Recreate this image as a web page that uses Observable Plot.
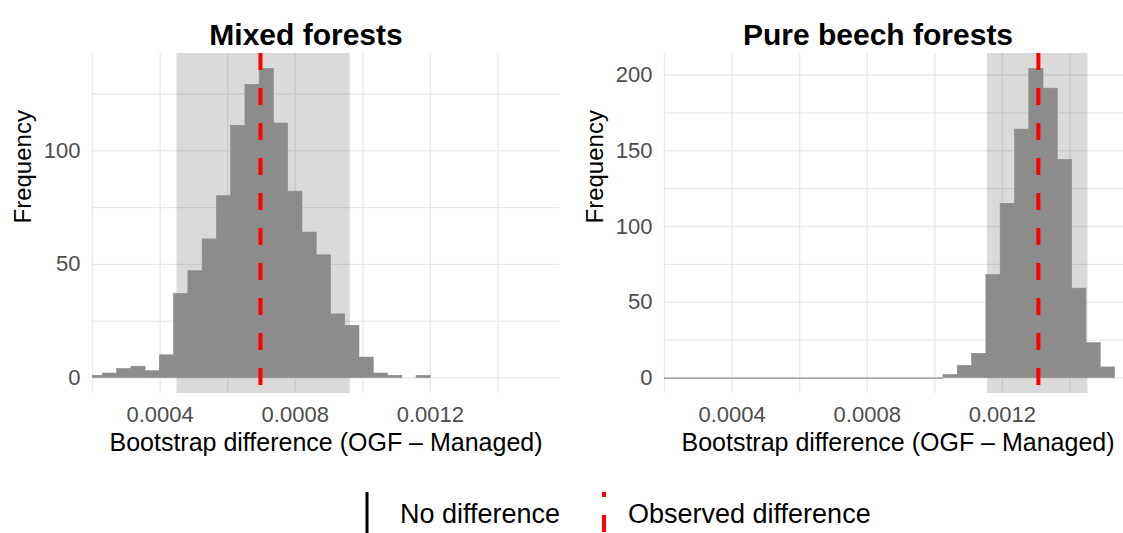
<!DOCTYPE html>
<html><head><meta charset="utf-8">
<script src="https://cdn.jsdelivr.net/npm/d3@7"></script>
<script src="https://cdn.jsdelivr.net/npm/@observablehq/plot@0.6"></script>
<style>
html,body{margin:0;padding:0;background:#fff;}
#wrap{position:relative;width:1123px;height:533px;overflow:hidden;font-family:"Liberation Sans",Arial,sans-serif;}
#left{position:absolute;left:0;top:0;width:572px;height:465px;}
#right{position:absolute;left:572px;top:0;width:572px;height:465px;}
#left svg,#right svg{max-width:none !important;width:572px;height:465px;}
#legend{position:absolute;left:0;top:465px;width:1123px;height:68px;}
</style></head><body>
<div id="wrap"><div id="left"></div><div id="right"></div><div id="legend"></div></div>
<script>
// ---- data ----
const mixedBinStart = [0.0001883,0.0002305,0.0002727,0.0003149,0.0003571,0.0003993,0.0004415,0.0004837,0.0005259,0.0005681,0.0006103,0.0006525,0.0006947,0.0007369,0.0007791,0.0008213,0.0008635,0.0009057,0.0009479,0.0009901,0.0010323,0.0010745,0.0011167,0.0011589];
const mixedBinEnd   = [0.0002305,0.0002727,0.0003149,0.0003571,0.0003993,0.0004415,0.0004837,0.0005259,0.0005681,0.0006103,0.0006525,0.0006947,0.0007369,0.0007791,0.0008213,0.0008635,0.0009057,0.0009479,0.0009901,0.0010323,0.0010745,0.0011167,0.0011589,0.0012011];
const mixedCounts   = [1,2,4,5,3,10,37,47,61,80,111,129,136,112,82,64,54,28,23,9,2,1,0,1];
const mixedCI = [0.00045, 0.000963];
const mixedObserved = 0.000697;

const beechBinStart = [0.0010256,0.0010679,0.0011102,0.0011525,0.0011948,0.0012371,0.0012794,0.0013217,0.0013640,0.0014063,0.0014486,0.0014909];
const beechBinEnd   = [0.0010679,0.0011102,0.0011525,0.0011948,0.0012371,0.0012794,0.0013217,0.0013640,0.0014063,0.0014486,0.0014909,0.0015332];
const beechCounts   = [2,8,16,68,115,164,204,191,144,59,23,7];
const beechEmptyBins = [0.00018, 0.0010256]; // zero-count bins before the first non-empty bin
const beechCI = [0.0011556, 0.0014532];
const beechObserved = 0.0013064;

const xDomain = [0.0002, 0.001582];
const xTicks = [0.0004, 0.0008, 0.0012];
const xGrid = [0.0002, 0.0004, 0.0006, 0.0008, 0.0010, 0.0012, 0.0014];
const mixedYDomain = [-6.8, 142.8];
const mixedYTicks = [0, 50, 100];
const mixedYGrid = [0, 25, 50, 75, 100, 125];
const beechYDomain = [-10.2, 214.2];
const beechYTicks = [0, 50, 100, 150, 200];
const beechYGrid = [0, 25, 50, 75, 100, 125, 150, 175, 200];

const titles = ["Mixed forests", "Pure beech forests"];
const xLabel = "Bootstrap difference (OGF \u2013 Managed)";
const yLabel = "Frequency";
const legendLabels = ["No difference", "Observed difference"];

const FONT = '"Liberation Sans", Arial, sans-serif';

function panel({starts, ends, counts, empty, ci, obs, yDomain, yTicks, yGrid, title}) {
  const bins = starts.map((s, i) => ({x1: s, x2: ends[i], count: counts[i]}));
  const marks = [
    Plot.ruleX(xGrid, {stroke: "#ebebeb", strokeWidth: 1.4}),
    Plot.ruleY(yGrid, {stroke: "#ebebeb", strokeWidth: 1.4}),
    Plot.rect([ci], {x1: d => d[0], x2: d => d[1], fill: "black", fillOpacity: 0.145}),
    Plot.rect(bins.filter(d => d.count > 0), {x1: "x1", x2: "x2", y1: 0, y2: "count", fill: "#8c8c8c", stroke: "#8c8c8c", strokeWidth: 0.6, clip: true}),
    Plot.ruleX([obs], {stroke: "#ff0000", strokeWidth: 4, strokeDasharray: "17,18"}),
    Plot.axisX({ticks: xTicks, tickSize: 0, tickPadding: 13, fontSize: 22, label: null, tickFormat: d => d.toFixed(4)}),
    Plot.axisY({ticks: yTicks, tickSize: 0, tickPadding: 12, fontSize: 22, label: null}),
    Plot.text([title], {frameAnchor: "top", dy: -29.6, dx: -20, fontSize: 30, fontWeight: "bold", fill: "black"}),
    Plot.text([xLabel], {frameAnchor: "bottom", lineAnchor: "top", dy: 40, fontSize: 25, fill: "black"}),
    Plot.text([yLabel], {frameAnchor: "left", rotate: -90, dx: -69, fontSize: 24, fill: "black"})
  ];
  if (empty) {
    marks.splice(4, 0, Plot.ruleY([0], {x1: empty[0], x2: empty[1], stroke: "#8c8c8c", strokeWidth: 1.3, clip: true}));
  }
  return Plot.plot({
    width: 572, height: 465,
    marginLeft: 92, marginRight: 13, marginTop: 53, marginBottom: 72,
    x: {domain: xDomain},
    y: {domain: yDomain},
    style: {fontFamily: FONT, color: "#4d4d4d", background: "white", overflow: "visible", maxWidth: "none"},
    marks
  });
}

document.getElementById("left").append(panel({
  starts: mixedBinStart, ends: mixedBinEnd, counts: mixedCounts, empty: null,
  ci: mixedCI, obs: mixedObserved, yDomain: mixedYDomain, yTicks: mixedYTicks, yGrid: mixedYGrid, title: titles[0]
}));
document.getElementById("right").append(panel({
  starts: beechBinStart, ends: beechBinEnd, counts: beechCounts, empty: beechEmptyBins,
  ci: beechCI, obs: beechObserved, yDomain: beechYDomain, yTicks: beechYTicks, yGrid: beechYGrid, title: titles[1]
}));

// ---- legend (below the plots) ----
const lg = d3.select("#legend").append("svg").attr("width", 1123).attr("height", 68)
  .style("font-family", FONT);
lg.append("line").attr("x1", 367).attr("x2", 367).attr("y1", 27).attr("y2", 70)
  .attr("stroke", "black").attr("stroke-width", 3);
lg.append("text").attr("x", 400).attr("y", 58).attr("font-size", 27).attr("fill", "black").text(legendLabels[0]);
lg.append("line").attr("x1", 604).attr("x2", 604).attr("y1", 27).attr("y2", 70)
  .attr("stroke", "#ff0000").attr("stroke-width", 4).attr("stroke-dasharray", "17,18").attr("stroke-dashoffset", 12);
lg.append("text").attr("x", 628).attr("y", 58).attr("font-size", 27).attr("fill", "black").text(legendLabels[1]);
</script>
</body></html>
